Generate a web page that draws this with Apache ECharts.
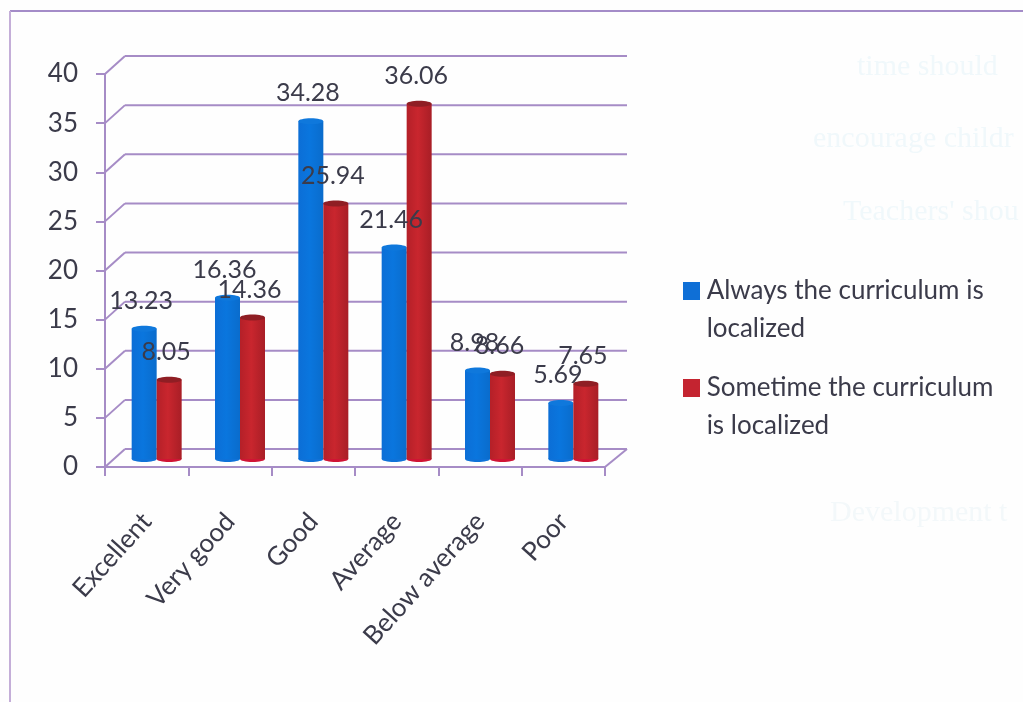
<!DOCTYPE html>
<html><head><meta charset="utf-8">
<style>html,body{margin:0;padding:0;background:#fff}#c{width:1023px;height:702px}</style>
<script src="https://cdn.jsdelivr.net/npm/echarts@6/dist/echarts.min.js"></script>
</head><body><div id="c"></div>
<script>
const categories = ['Excellent','Very good','Good','Average','Below average','Poor'];
const alwaysValues = [13.23,16.36,34.28,21.46,8.98,5.69];
const sometimeValues = [8.05,14.36,25.94,36.06,8.66,7.65];
const seriesNames = ['Always the curriculum is localized','Sometime the curriculum is localized'];
const legendLines = {[seriesNames[0]]:' \n\u200aAlways the curriculum is\n\u200alocalized',[seriesNames[1]]:' \n\u200aSometime the curriculum\n\u200ais localized'};
const yTicks = [0,5,10,15,20,25,30,35,40];

const FONT='Lato', INK='#3b3b4a', WALL='#a68cc6';
const DX=20, DY=-18;

function barRender(side, body, top, bottomEdge){
  return function(params, api){
    const c = api.coord([api.value(0), api.value(1)]);
    const b = api.coord([api.value(0), 0]);
    const w = 25, rx = w/2, ry = 3;
    const x = c[0] + (side<0 ? -w : 0);
    const cx = x + rx;
    return {type:'group',children:[
      {type:'ellipse',shape:{cx:cx,cy:b[1],rx:rx,ry:ry},style:{fill:bottomEdge},z2:side<0?1:3},
      {type:'rect',shape:{x:x,y:c[1],width:w,height:b[1]-c[1]},style:{fill:body},z2:side<0?2:4},
      {type:'ellipse',shape:{cx:cx,cy:c[1],rx:rx,ry:ry},style:{fill:top},z2:side<0?2:4},
      {type:'text',z2:100,style:{text:String(api.value(1)),x:cx-3,y:c[1]-28,align:'center',verticalAlign:'middle',
        font:'25px '+FONT,fill:INK}}
    ]};
  };
}
function grad(a,b,c){return {type:'linear',x:0,y:0,x2:1,y2:0,colorStops:[{offset:0,color:a},{offset:.45,color:b},{offset:1,color:c}]};}

const legendBase = {orient:'vertical',left:678,itemWidth:17,itemHeight:18,icon:'rect',
  formatter:n=>legendLines[n],
  textStyle:{fontFamily:FONT,fontSize:26,color:INK,lineHeight:38}};

const option = {
  animation:false,
  backgroundColor:'#fefefe',
  graphic:{elements:[
    {type:'line',shape:{x1:10,y1:11,x2:1023,y2:11},style:{stroke:'#a48cc8',lineWidth:2},silent:true},
    {type:'line',shape:{x1:10,y1:11,x2:10,y2:702},style:{stroke:'#c4aed8',lineWidth:2},silent:true},
    {type:'text',x:857,y:52,z:-1,style:{text:'time should',font:'30px "Liberation Serif"',fill:'#f0f8fb'},silent:true},
    {type:'text',x:813,y:124,z:-1,style:{text:'encourage childr',font:'30px "Liberation Serif"',fill:'#f0f8fb'},silent:true},
    {type:'text',x:843,y:197,z:-1,style:{text:"Teachers' shou",font:'30px "Liberation Serif"',fill:'#f0f8fb'},silent:true},
    {type:'text',x:830,y:498,z:-1,style:{text:'Development t',font:'30px "Liberation Serif"',fill:'#f3f8fa'},silent:true}
  ]},
  legend:[
    Object.assign({},legendBase,{top:229,data:[seriesNames[0]]}),
    Object.assign({},legendBase,{top:326,data:[seriesNames[1]]})
  ],
  grid:[
    {left:105,top:74,width:500,height:393},
    {left:115,top:65,width:500,height:394}
  ],
  xAxis:[
    {type:'category',gridIndex:0,data:categories,
     axisLine:{lineStyle:{color:WALL,width:2}},
     axisTick:{show:true,alignWithLabel:false,length:9,lineStyle:{color:WALL,width:2}},
     axisLabel:{rotate:48,interval:0,fontFamily:FONT,fontSize:26,color:INK,margin:50}},
    {type:'category',gridIndex:1,data:categories,show:false}
  ],
  yAxis:[
    {type:'value',gridIndex:0,min:0,max:40,interval:5,
     axisLine:{show:true,lineStyle:{color:WALL,width:2}},
     axisTick:{show:true,length:9,lineStyle:{color:WALL,width:2}},
     splitLine:{show:false},
     axisLabel:{fontFamily:FONT,fontSize:26,color:INK,margin:27}},
    {type:'value',gridIndex:1,min:0,max:40,interval:5,show:false,splitLine:{show:false}}
  ],
  series:[
    {type:'custom',name:'wall',xAxisIndex:0,yAxisIndex:0,z:1,silent:true,clip:false,
     data:yTicks.map(v=>[0,v]),encode:{x:0,y:1},
     renderItem(p,api){
       const c=api.coord([0,api.value(1)]), band=api.size([1,0])[0];
       const x0=c[0]-band/2, y=c[1], xEnd=x0+band*categories.length;
       const line=(a,b,d,e)=>({type:'line',shape:{x1:a,y1:b,x2:d,y2:e},style:{stroke:WALL,lineWidth:2}});
       const kids=[line(x0,y,x0+DX,y+DY),line(x0+DX,y+DY,xEnd+DX+2,y+DY)];
       if(api.value(1)===0) kids.push(line(xEnd,y,xEnd+DX+2,y+DY));
       return {type:'group',children:kids};
     }},
    {type:'custom',name:seriesNames[0],xAxisIndex:1,yAxisIndex:1,z:2,clip:false,
     itemStyle:{color:'#0f6fd6'},encode:{x:0,y:1},
     data:alwaysValues.map((v,i)=>[i,v]),
     renderItem:barRender(-1,grad('#0c6ed6','#0a76de','#0a6ccc'),'#0f78dc','#0f72d8')},
    {type:'custom',name:seriesNames[1],xAxisIndex:1,yAxisIndex:1,z:2,clip:false,
     itemStyle:{color:'#c42430'},encode:{x:0,y:1},
     data:sometimeValues.map((v,i)=>[i,v]),
     renderItem:barRender(1,grad('#b42028','#c9262e','#a81e26'),'#8f1e24','#cf1434')}
  ]
};
echarts.init(document.getElementById('c'),null,{renderer:'canvas'}).setOption(option);
</script></body></html>
